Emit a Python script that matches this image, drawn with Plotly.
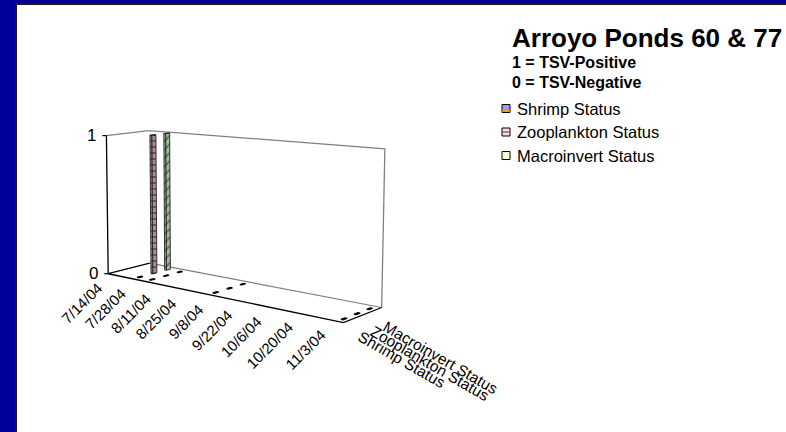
import numpy as np
import pandas as pd
import plotly.graph_objects as go

# ---------------- data ----------------
sample_dates = ["2004-07-28", "2004-08-04", "2004-09-07", "2004-11-05"]
shrimp_status = [0, 0, 0, 0]
zooplankton_status = [1, 0, 0, 0]
macroinvert_status = [1, 0, 0, 0]
series_names = ["Shrimp Status", "Zooplankton Status", "Macroinvert Status"]
date_tick_labels = ["7/14/04", "7/28/04", "8/11/04", "8/25/04", "9/8/04",
                    "9/22/04", "10/6/04", "10/20/04", "11/3/04"]
value_tick_labels = ["0", "1"]
axis_first_day = "2004-07-14"
axis_last_day = "2004-11-07"

chart_title = "Arroyo Ponds 60 &amp; 77"
key_lines = ["1 = TSV-Positive", "0 = TSV-Negative"]

# ---------------- page / box geometry (pixels) ----------------
W, H = 786, 432
FONT = "Liberation Sans, Arial, sans-serif"

# unit box (u: date, v: series depth, h: value) -> screen corners
box_world = [(0, 0, 0), (1, 0, 0), (0, 1, 0), (1, 1, 0),
             (0, 0, 1), (0, 1, 1), (1, 1, 1)]
box_screen = [(108, 274), (343, 323), (150, 263), (382, 307),
              (107, 135), (148, 131), (385, 149)]


def solve_camera(world, screen):
    rows, rhs = [], []
    for (X, Y, Z), (x, y) in zip(world, screen):
        rows.append([X, Y, Z, 1, 0, 0, 0, 0, -x * X, -x * Y, -x * Z]); rhs.append(x)
        rows.append([0, 0, 0, 0, X, Y, Z, 1, -y * X, -y * Y, -y * Z]); rhs.append(y)
    p = np.linalg.lstsq(np.array(rows, float), np.array(rhs, float), rcond=None)[0]
    return np.append(p, 1.0).reshape(3, 4)


CAM = solve_camera(box_world, box_screen)


def proj(u, v, h):
    w = CAM @ np.array([u, v, h, 1.0])
    return w[0] / w[2], w[1] / w[2]


def poly(points):
    pts = [proj(*p) for p in points]
    pts.append(pts[0])
    return [p[0] for p in pts], [p[1] for p in pts]


t0 = pd.Timestamp(axis_first_day)
n_days = (pd.Timestamp(axis_last_day) - t0).days + 1


def day_u(d):
    return ((pd.Timestamp(d) - t0).days + 0.5) / n_days


fig = go.Figure()


def add_line(points, color, width):
    xs, ys = zip(*[proj(*p) for p in points])
    fig.add_trace(go.Scatter(x=xs, y=ys, mode="lines", hoverinfo="skip",
                             line=dict(color=color, width=width)))


def add_face(points, fill, line_color, line_width, pattern=None):
    xs, ys = poly(points)
    kw = dict(fillpattern=pattern) if pattern else {}
    fig.add_trace(go.Scatter(x=xs, y=ys, mode="lines", fill="toself",
                             fillcolor=fill, hoverinfo="skip",
                             line=dict(color=line_color, width=line_width), **kw))


GRAY = "#808080"
# walls and floor
add_line([(0, 1, 1), (1, 1, 1), (1, 1, 0)], GRAY, 1.3)      # back wall
add_line([(0, 0, 1), (0, 1, 1)], GRAY, 1.3)                  # side wall top
add_line([(0, 1, 0), (1, 1, 0)], GRAY, 1.2)                  # floor back edge
add_line([(0, 0, 1), (0, 0, 0)], "#000000", 1.3)             # value axis
add_line([(0, 1, 0), (0, 0, 0), (1, 0, 0), (1, 1, 0)], "#000000", 1.3)

# value axis ticks
for lbl in value_tick_labels:
    x, y = proj(0, 0, float(lbl))
    fig.add_trace(go.Scatter(x=[x - 4, x], y=[y, y], mode="lines", hoverinfo="skip",
                             line=dict(color="#000000", width=1.2)))

# ---------------- bars ----------------
series_values = [shrimp_status, zooplankton_status, macroinvert_status]
series_style = [
    dict(bg="#9999ff", fg="#ff9900", shape="-", side="#6f6fc0", top="#b8b8ff"),
    dict(bg="#969696", fg="#993366", shape="-", side="#7a7a7a", top="#b0b0b0"),
    dict(bg="#bdb38a", fg="#1f8585", shape="/", side="#9a9272", top="#d8d0ae"),
]
n_series = len(series_names)
bar_depth = 0.3 / n_series
bar_days = 1.0

# back row first so nearer rows overdraw it
for k in reversed(range(n_series)):
    vc = (k + 0.5) / n_series
    v0, v1 = vc - bar_depth / 2, vc + bar_depth / 2
    st = series_style[k]
    for d, val in zip(sample_dates, series_values[k]):
        uc = day_u(d)
        u0, u1 = uc - bar_days / 2 / n_days, uc + bar_days / 2 / n_days
        if val == 0:
            add_face([(u0, v0, 0), (u1, v0, 0), (u1, v1, 0), (u0, v1, 0)],
                     "#000000", "#000000", 1.2)
            continue
        pat = dict(shape=st["shape"], fgcolor=st["fg"], bgcolor=st["bg"],
                   size=6, solidity=0.3, fillmode="replace")
        add_face([(u1, v0, 0), (u1, v1, 0), (u1, v1, val), (u1, v0, val)],
                 st["side"], "#222222", 0.9, pat)
        add_face([(u0, v0, 0), (u1, v0, 0), (u1, v0, val), (u0, v0, val)],
                 st["bg"], "#222222", 0.9, pat)
        add_face([(u0, v0, val), (u1, v0, val), (u1, v1, val), (u0, v1, val)],
                 st["top"], "#222222", 0.9)

annotations = []

# value axis labels
for lbl in value_tick_labels:
    x, y = proj(0, 0, float(lbl))
    annotations.append(dict(x=x - 8, y=y, text=lbl, showarrow=False,
                            xanchor="right", yanchor="middle",
                            font=dict(family=FONT, size=17, color="#000000")))

# date axis labels
for lbl in date_tick_labels:
    d = pd.to_datetime(lbl, format="%m/%d/%y")
    x, y = proj(day_u(d), 0, 0)
    annotations.append(dict(x=x - 1, y=y + 3, text=lbl, showarrow=False, textangle=-45,
                            xanchor="right", yanchor="top",
                            font=dict(family=FONT, size=15, color="#000000")))

# series (depth) axis labels
for k, name in enumerate(series_names):
    x, y = proj(1, (k + 0.5) / n_series, 0)
    annotations.append(dict(x=x + 2, y=y + 5, text=name, showarrow=False, textangle=30,
                            xanchor="left", yanchor="top",
                            font=dict(family=FONT, size=15.5, color="#000000")))

# title block and key
annotations.append(dict(x=510, y=38, text="<b>%s</b>" % chart_title, showarrow=False,
                        xanchor="left", yanchor="middle",
                        font=dict(family=FONT, size=26, color="#000000")))
for i, line in enumerate(key_lines):
    annotations.append(dict(x=510, y=62 + 20 * i, text="<b>%s</b>" % line, showarrow=False,
                            xanchor="left", yanchor="middle",
                            font=dict(family=FONT, size=16, color="#000000")))

shapes = [dict(type="rect", x0=16, y0=4, x1=W + 10, y1=H + 10, layer="below",
               fillcolor="#ffffff", line=dict(color="#1a1a1a", width=2))]

legend_y = [108.5, 132, 155.5]
icon_fill = [("#9999ff", "#ff9900"), ("#f4dce6", "#993366"), ("#ffffcc", "#2a8c8c")]
for k, name in enumerate(series_names):
    yc = legend_y[k]
    top, accent = icon_fill[k]
    shapes.append(dict(type="rect", x0=502, x1=510, y0=yc - 4, y1=yc + 4,
                       fillcolor=top, line=dict(color="#000000", width=1)))
    if k == 0:
        shapes.append(dict(type="rect", x0=502.5, x1=509.5, y0=yc + 1, y1=yc + 3.5,
                           fillcolor=accent, line=dict(width=0)))
    elif k == 1:
        shapes.append(dict(type="line", x0=502.5, x1=509.5, y0=yc, y1=yc,
                           line=dict(color=accent, width=1.2)))
    annotations.append(dict(x=515, y=yc, text=name, showarrow=False,
                            xanchor="left", yanchor="middle",
                            font=dict(family=FONT, size=16.5, color="#000000")))

fig.update_layout(
    width=W, height=H, margin=dict(l=0, r=0, t=0, b=0),
    paper_bgcolor="#000099", plot_bgcolor="#000099",
    showlegend=False,
    xaxis=dict(range=[0, W], visible=False, fixedrange=True),
    yaxis=dict(range=[H, 0], visible=False, fixedrange=True),
    shapes=shapes, annotations=annotations,
)

fig.write_html("out.html")
